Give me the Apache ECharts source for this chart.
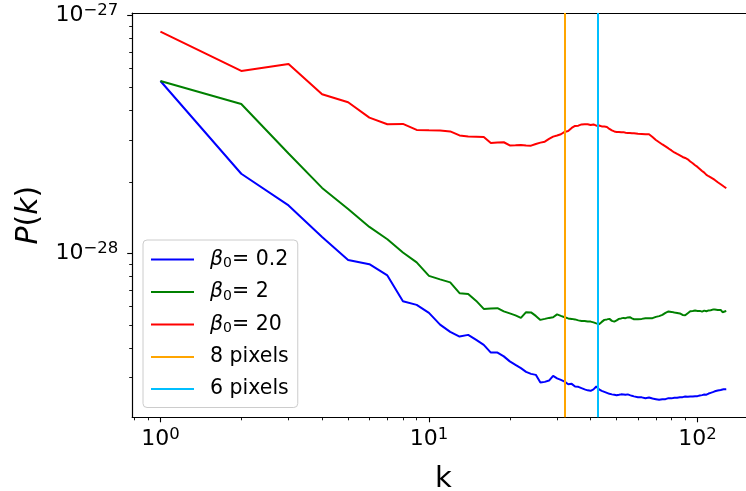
<!DOCTYPE html>
<html>
<head>
<meta charset="utf-8">
<script src="https://cdn.jsdelivr.net/npm/echarts@6/dist/echarts.min.js"></script>
<style>
html, body { margin: 0; padding: 0; background: #fff; }
#chart { width: 746px; height: 491px; }
</style>
</head>
<body>
<div id="chart"></div>
<script>
// wavenumbers k
const K = [1, 2, 3, 4, 5, 6, 7, 8, 9, 10, 11, 12, 13, 14, 15, 16, 17, 18, 19, 20,
  21, 22, 23, 24, 25, 26, 27, 28, 29, 30, 31, 32, 33, 34, 35, 36, 37, 38, 39, 40,
  41, 42, 43, 44, 45, 46, 47, 48, 49, 50, 51, 52, 53, 54, 55, 56, 57, 58, 59, 60,
  61, 62, 63, 64, 65, 66, 67, 68, 69, 70, 71, 72, 73, 74, 75, 76, 77, 78, 79, 80,
  81, 82, 83, 84, 85, 86, 87, 88, 89, 90, 91, 92, 93, 94, 95, 96, 97, 98, 99, 100,
  101, 102, 103, 104, 105, 106, 107, 108, 109, 110, 111, 112, 113, 114, 115, 116, 117, 118, 119, 120,
  121, 122, 123, 124, 125, 126, 127, 128];

// P(k) values, in units of 1e-28 (the y axis is labelled in true powers)
const UNIT_EXP = -28;
const beta02 = [5.312, 2.162, 1.590, 1.172, 0.9378, 0.8995, 0.8070, 0.6285, 0.6064, 0.5611,
  0.5010, 0.4669, 0.4461, 0.4535, 0.4320, 0.4116, 0.3820, 0.3820, 0.3682, 0.3508,
  0.3391, 0.3284, 0.3169, 0.3108, 0.3078, 0.2856, 0.2876, 0.2912, 0.3048, 0.2975,
  0.2932, 0.2884, 0.2812, 0.2821, 0.2748, 0.2740, 0.2705, 0.2674, 0.2649, 0.2636,
  0.2674, 0.2748, 0.2674, 0.2636, 0.2611, 0.2586, 0.2561, 0.2548, 0.2536, 0.2524,
  0.2536, 0.2548, 0.2543, 0.2536, 0.2548, 0.2529, 0.2512, 0.2499, 0.2487, 0.2480,
  0.2471, 0.2475, 0.2463, 0.2456, 0.2463, 0.2471, 0.2451, 0.2447, 0.2440, 0.2432,
  0.2423, 0.2416, 0.2416, 0.2432, 0.2447, 0.2432, 0.2444, 0.2456, 0.2451, 0.2451,
  0.2456, 0.2463, 0.2471, 0.2463, 0.2480, 0.2475, 0.2487, 0.2480, 0.2495, 0.2495,
  0.2495, 0.2487, 0.2504, 0.2495, 0.2504, 0.2495, 0.2499, 0.2504, 0.2495, 0.2504,
  0.2512, 0.2519, 0.2529, 0.2529, 0.2536, 0.2543, 0.2536, 0.2541, 0.2553, 0.2568,
  0.2578, 0.2586, 0.2593, 0.2603, 0.2611, 0.2624, 0.2629, 0.2636, 0.2644, 0.2649,
  0.2654, 0.2657, 0.2662, 0.2670, 0.2675, 0.2675, 0.2680, 0.2680];
const beta2 = [5.312, 4.251, 2.631, 1.884, 1.537, 1.291, 1.146, 1.008, 0.9153, 0.8031,
  0.7763, 0.7541, 0.6792, 0.6746, 0.6304, 0.5833, 0.5862, 0.5873, 0.5693, 0.5584,
  0.5477, 0.5346, 0.5650, 0.5639, 0.5451, 0.5244, 0.5295, 0.5346, 0.5382, 0.5530,
  0.5451, 0.5382, 0.5320, 0.5295, 0.5269, 0.5219, 0.5193, 0.5193, 0.5168, 0.5158,
  0.5118, 0.5069, 0.5030, 0.5143, 0.5244, 0.5269, 0.5295, 0.5193, 0.5158, 0.5219,
  0.5295, 0.5320, 0.5346, 0.5331, 0.5372, 0.5382, 0.5320, 0.5279, 0.5295, 0.5279,
  0.5320, 0.5295, 0.5320, 0.5331, 0.5310, 0.5331, 0.5300, 0.5331, 0.5372, 0.5398,
  0.5424, 0.5440, 0.5451, 0.5504, 0.5573, 0.5611, 0.5666, 0.5693, 0.5693, 0.5666,
  0.5650, 0.5628, 0.5595, 0.5611, 0.5611, 0.5584, 0.5541, 0.5504, 0.5467, 0.5488,
  0.5530, 0.5595, 0.5666, 0.5705, 0.5721, 0.5721, 0.5705, 0.5738, 0.5705, 0.5721,
  0.5693, 0.5721, 0.5721, 0.5683, 0.5705, 0.5738, 0.5721, 0.5705, 0.5749, 0.5749,
  0.5721, 0.5760, 0.5777, 0.5794, 0.5777, 0.5805, 0.5816, 0.5805, 0.5777, 0.5749,
  0.5760, 0.5777, 0.5721, 0.5650, 0.5693, 0.5721, 0.5705, 0.5721];
const beta20 = [8.565, 5.853, 6.263, 4.670, 4.322, 3.723, 3.492, 3.503, 3.305, 3.295,
  3.289, 3.257, 3.133, 3.103, 3.097, 3.088, 2.913, 2.927, 2.933, 2.843,
  2.849, 2.857, 2.843, 2.838, 2.885, 2.922, 2.950, 3.029, 3.097, 3.133,
  3.170, 3.242, 3.273, 3.369, 3.435, 3.445, 3.486, 3.492, 3.492, 3.469,
  3.486, 3.445, 3.452, 3.419, 3.419, 3.402, 3.337, 3.289, 3.257, 3.242,
  3.242, 3.232, 3.235, 3.217, 3.210, 3.210, 3.204, 3.201, 3.192, 3.186,
  3.186, 3.179, 3.179, 3.170, 3.164, 3.170, 3.133, 3.088, 3.044, 2.999,
  2.970, 2.933, 2.905, 2.871, 2.849, 2.816, 2.789, 2.762, 2.735, 2.709,
  2.683, 2.657, 2.636, 2.618, 2.606, 2.581, 2.561, 2.543, 2.531, 2.519,
  2.507, 2.487, 2.459, 2.435, 2.417, 2.393, 2.366, 2.347, 2.331, 2.309,
  2.287, 2.265, 2.243, 2.221, 2.204, 2.185, 2.168, 2.137, 2.122, 2.110,
  2.096, 2.086, 2.076, 2.062, 2.050, 2.036, 2.016, 2.003, 1.991, 1.978,
  1.964, 1.953, 1.940, 1.927, 1.915, 1.902, 1.890, 1.879];

// vertical resolution lines
const pixelNames = ['8 pixels', '6 pixels'];
const pixelK = [32, 42.67];

// ticks (y in units of 1e-28)
const xMajor = [1, 10, 100];
const xMinor = [0.8, 0.9, 2, 3, 4, 5, 6, 7, 8, 9, 20, 30, 40, 50, 60, 70, 80, 90];
const yMajor = [1, 10];
const yMinor = [0.3, 0.4, 0.5, 0.6, 0.7, 0.8, 0.9, 2, 3, 4, 5, 6, 7, 8, 9];

const FONT = 'DejaVu Sans';

function pairs(vals) {
  return K.map((k, i) => [k, vals[i]]);
}

function powLabel(shift) {
  return function (v) {
    const e = Math.round(Math.log10(v)) + shift;
    return '{b|10}{e|' + (e < 0 ? '\u2212' + (-e) : e) + '}';
  };
}

const tickRich = {
  b: { fontFamily: FONT, fontSize: 22, lineHeight: 26, color: '#000' },
  e: { fontFamily: FONT, fontSize: 16.5, lineHeight: 13, verticalAlign: 'top', color: '#000' }
};

const chart = echarts.init(document.getElementById('chart'), null, { renderer: 'canvas' });

const lineSeries = [
  { name: 'β0= 0.2', color: '#0000FF', vals: beta02 },
  { name: 'β0= 2', color: '#008000', vals: beta2 },
  { name: 'β0= 20', color: '#FF0000', vals: beta20 }
].map(s => ({
  name: s.name,
  type: 'line',
  color: s.color,
  data: pairs(s.vals),
  showSymbol: false,
  symbol: 'none',
  lineStyle: { width: 2, color: s.color },
  emphasis: { disabled: true }
}));

const vColors = ['#FFA500', '#00BFFF'];
const vSeries = pixelNames.map((n, i) => ({
  name: n,
  type: 'line',
  color: vColors[i],
  data: [],
  symbol: 'none',
  z: 3,
  markLine: {
    silent: true,
    symbol: 'none',
    animation: false,
    label: { show: false },
    emphasis: { disabled: true },
    lineStyle: { color: vColors[i], width: 2, type: 'solid' },
    data: [{ xAxis: pixelK[i] }]
  }
}));

const axisLineStyle = { show: true, onZero: false, lineStyle: { color: '#000', width: 1.2 } };

function extraAxis(extra) {
  return Object.assign({
    type: 'log', logBase: 10,
    axisLine: { show: false, onZero: false },
    splitLine: { show: false },
    axisLabel: { show: false },
    axisTick: { show: false }
  }, extra);
}

const X_MIN = 0.785, X_MAX = 163.2;
const Y_MIN = 0.204, Y_MAX = 10.265;

const option = {
  animation: false,
  backgroundColor: '#fff',
  grid: {
    left: 132.2, right: -8.6, top: 13, bottom: 73.7,
    outerBoundsMode: 'none',
    containLabel: false,
    show: false
  },
  legend: {
    left: 143, top: 240,
    orient: 'vertical',
    selectedMode: false,
    icon: 'rect',
    itemWidth: 43, itemHeight: 2, itemGap: 11,
    padding: [9, 9, 8, 8],
    backgroundColor: 'rgba(255,255,255,0.8)',
    borderColor: '#cccccc', borderWidth: 1, borderRadius: 4,
    data: lineSeries.map(s => s.name).concat(pixelNames),
    formatter: function (name) {
      if (name.indexOf('β0') === 0) {
        return '{sp|}{g|β}{s|0}{t|' + name.slice(2) + '}';
      }
      return '{sp|}{t|' + name + '}';
    },
    textStyle: {
      fontFamily: FONT, fontSize: 20.5, color: '#000',
      rich: {
        sp: { width: 11, lineHeight: 22 },
        g: { fontFamily: FONT, fontSize: 20.5, fontStyle: 'italic', lineHeight: 22, color: '#000' },
        s: { fontFamily: FONT, fontSize: 14, lineHeight: 12, verticalAlign: 'bottom', color: '#000' },
        t: { fontFamily: FONT, fontSize: 20.5, lineHeight: 22, color: '#000' }
      }
    }
  },
  xAxis: [{
    type: 'log', logBase: 10, min: X_MIN, max: X_MAX,
    position: 'bottom',
    name: 'k', nameLocation: 'middle', nameGap: 48,
    nameTextStyle: { fontFamily: FONT, fontSize: 29, color: '#000' },
    axisLine: axisLineStyle,
    splitLine: { show: false },
    axisTick: { show: true, length: 5, lineStyle: { color: '#000', width: 1.1 }, customValues: xMajor },
    axisLabel: { margin: 9, formatter: powLabel(0), rich: tickRich, customValues: xMajor }
  }, extraAxis({
    min: X_MIN, max: X_MAX, position: 'bottom',
    axisTick: { show: true, length: 3, lineStyle: { color: '#000', width: 0.9 }, customValues: xMinor }
  }), extraAxis({
    min: X_MIN, max: X_MAX, position: 'top',
    axisLine: axisLineStyle
  })],
  yAxis: [{
    type: 'log', logBase: 10, min: Y_MIN, max: Y_MAX,
    position: 'left',
    name: '{i|P}({i|k})', nameLocation: 'middle', nameGap: 88, nameRotate: 90,
    nameTextStyle: {
      fontFamily: FONT, fontSize: 30, color: '#000',
      rich: { i: { fontFamily: FONT, fontSize: 30, fontStyle: 'italic', color: '#000' } }
    },
    axisLine: axisLineStyle,
    splitLine: { show: false },
    axisTick: { show: true, length: 5, lineStyle: { color: '#000', width: 1.1 }, customValues: yMajor },
    axisLabel: { margin: 14, formatter: powLabel(UNIT_EXP), rich: tickRich, customValues: yMajor }
  }, extraAxis({
    min: Y_MIN, max: Y_MAX, position: 'left',
    axisTick: { show: true, length: 3, lineStyle: { color: '#000', width: 0.9 }, customValues: yMinor }
  })],
  series: lineSeries.concat(vSeries)
};

chart.setOption(option);
</script>
</body>
</html>
